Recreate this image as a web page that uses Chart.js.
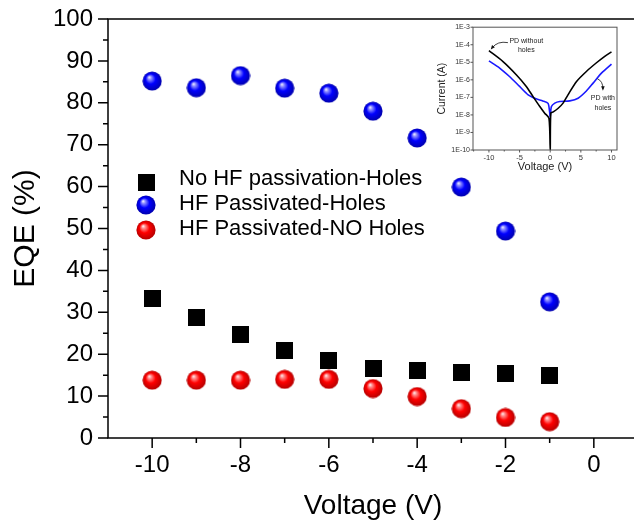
<!DOCTYPE html>
<html>
<head>
<meta charset="utf-8">
<script src="https://cdn.jsdelivr.net/npm/chart.js@4.4.0/dist/chart.umd.min.js"></script>
<style>
html, body { margin: 0; padding: 0; background: #fff; overflow: hidden; }
#wrap { position: relative; width: 634px; height: 527px; overflow: hidden; }
#main { position: absolute; left: 0; top: 0; }
#inset { position: absolute; left: 428px; top: 20px; background: #fff; }
</style>
</head>
<body>
<div id="wrap">
  <canvas id="main" width="660" height="527"></canvas>
  <canvas id="inset" width="200" height="155"></canvas>
</div>
<script>
// main EQE data
var voltage = [-10, -9, -8, -7, -6, -5, -4, -3, -2, -1];
var eqeNoHF = [33.2, 28.7, 24.7, 21, 18.6, 16.7, 16, 15.7, 15.5, 15];
var eqeHFHoles = [85.2, 83.6, 86.5, 83.5, 82.3, 78, 71.6, 59.9, 49.4, 32.5];
var eqeHFNoHoles = [13.8, 13.8, 13.8, 14, 14, 11.8, 9.9, 7, 4.9, 3.9];
var labels = ['No HF passivation-Holes', 'HF Passivated-Holes', 'HF Passivated-NO Holes'];

var xMajor = [-10, -8, -6, -4, -2, 0];
var xMinor = [-9, -7, -5, -3, -1];
var yMajor = [0, 10, 20, 30, 40, 50, 60, 70, 80, 90, 100];
var yMinor = [5, 15, 25, 35, 45, 55, 65, 75, 85, 95];

// inset I-V data
var ivVoltNoHoles = [-10, -7.7, -5.5, -3.9, -2.8, -1.7, -0.9, -0.2, 0, 0.1, 0.5, 1.3, 2.1, 2.9, 4.3, 5.9, 7.5, 8.9, 10];
var ivCurNoHoles = [4.6e-5, 1.1e-5, 1.9e-6, 4.2e-7, 1.1e-7, 3.0e-8, 1.26e-8, 6.4e-9, 1e-10, 1.3e-8, 1.5e-8, 2.4e-8, 4.7e-8, 1.4e-7, 8.1e-7, 3.0e-6, 9.1e-6, 2.2e-5, 3.9e-5];
var ivVoltHoles = [-10, -8.25, -6.6, -5, -3.6, -2.3, -1.2, -0.35, -0.1, 0, 0.2, 0.75, 1.55, 3.2, 4.55, 5.9, 7, 8.4, 10];
var ivCurHoles = [1.2e-5, 4.7e-6, 1.5e-6, 4.2e-7, 1.4e-7, 8.3e-8, 6.3e-8, 4.5e-8, 1.5e-8, 7.9e-9, 3.0e-8, 4.7e-8, 5.8e-8, 6.3e-8, 8.9e-8, 2.3e-7, 6.5e-7, 2.5e-6, 7.9e-6];
var ivXMajor = [-10, -5, 0, 5, 10];
var ivXMinor = [-12.5, -7.5, -2.5, 2.5, 7.5];
var ivYMajor = [1e-10, 1e-9, 1e-8, 1e-7, 1e-6, 1e-5, 1e-4, 1e-3];

var FONT = "'Liberation Sans', Arial, sans-serif";

function sphere(base, dark, light) {
  var c = document.createElement('canvas');
  c.width = 20; c.height = 20;
  var g = c.getContext('2d');
  var grad = g.createRadialGradient(7, 6, 0, 10, 10, 10);
  grad.addColorStop(0, '#ffffff');
  grad.addColorStop(0.18, light);
  grad.addColorStop(0.5, base);
  grad.addColorStop(1, dark);
  g.fillStyle = grad;
  g.beginPath();
  g.arc(10, 10, 9.6, 0, Math.PI * 2);
  g.fill();
  return c;
}
function square() {
  var c = document.createElement('canvas');
  c.width = 17; c.height = 17;
  var g = c.getContext('2d');
  g.fillStyle = '#000';
  g.fillRect(0, 0, 17, 17);
  return c;
}
var icons = [square(), sphere('#0000ff', '#0000a8', '#9090ff'), sphere('#ff0000', '#b00000', '#ff9090')];

function pts(xs, ys) {
  return xs.map(function (x, i) { return { x: x, y: ys[i] }; });
}

function drawTickMarks(ctx, scale, values, len, horizontal, at) {
  ctx.beginPath();
  values.forEach(function (v) {
    var p = scale.getPixelForValue(v);
    if (horizontal) { ctx.moveTo(p, at); ctx.lineTo(p, at + len); }
    else { ctx.moveTo(at, p); ctx.lineTo(at - len, p); }
  });
  ctx.stroke();
}

var mainDecor = {
  id: 'mainDecor',
  afterDraw: function (chart) {
    var ctx = chart.ctx, a = chart.chartArea;
    var xs = chart.scales.x, ys = chart.scales.y;
    ctx.save();
    ctx.strokeStyle = '#000';
    ctx.lineWidth = 1.5;
    ctx.strokeRect(a.left, a.top, a.right - a.left, a.bottom - a.top);
    drawTickMarks(ctx, xs, xMajor, 10, true, a.bottom);
    drawTickMarks(ctx, xs, xMinor, 5, true, a.bottom);
    drawTickMarks(ctx, ys, yMajor, 10, false, a.left);
    drawTickMarks(ctx, ys, yMinor, 5, false, a.left);
    // legend
    var rows = [180, 205, 230];
    ctx.font = '22px ' + FONT;
    ctx.fillStyle = '#000';
    ctx.textBaseline = 'middle';
    ctx.textAlign = 'left';
    labels.forEach(function (t, i) {
      var ic = icons[i];
      ctx.drawImage(ic, 146 - ic.width / 2, rows[i] + (i === 0 ? 2 : 0) - ic.height / 2);
      ctx.fillText(t, 179, rows[i] - 1);
    });
    ctx.restore();
  }
};

new Chart(document.getElementById('main'), {
  type: 'scatter',
  data: {
    datasets: [
      { label: labels[0], data: pts(voltage, eqeNoHF), pointStyle: icons[0] },
      { label: labels[1], data: pts(voltage, eqeHFHoles), pointStyle: icons[1] },
      { label: labels[2], data: pts(voltage, eqeHFNoHoles), pointStyle: icons[2] }
    ]
  },
  options: {
    responsive: false,
    animation: false,
    events: [],
    layout: { padding: { top: 19, right: 22, left: 0, bottom: 0 } },
    plugins: { legend: { display: false }, tooltip: { enabled: false } },
    scales: {
      x: {
        type: 'linear', min: -11, max: 1,
        grid: { display: false, drawTicks: false },
        border: { display: false },
        afterBuildTicks: function (s) { s.ticks = xMajor.map(function (v) { return { value: v }; }); },
        afterFit: function (s) { s.height = 89; },
        ticks: { padding: 13, color: '#000', font: { family: FONT, size: 24 }, maxRotation: 0 },
        title: { display: true, text: 'Voltage (V)', color: '#000', font: { family: FONT, size: 28 }, padding: { top: 0, bottom: 4 } }
      },
      y: {
        type: 'linear', min: 0, max: 100,
        grid: { display: false, drawTicks: false },
        border: { display: false },
        afterBuildTicks: function (s) { s.ticks = yMajor.map(function (v) { return { value: v }; }); },
        afterFit: function (s) { s.width = 108; s.paddingTop = 0; s.paddingBottom = 0; },
        ticks: { padding: 15, color: '#000', font: { family: FONT, size: 24 } },
        title: { display: true, text: 'EQE (%)', color: '#000', font: { family: FONT, size: 30 }, padding: { top: 8, bottom: 0 } }
      }
    }
  },
  plugins: [mainDecor]
});

var insetDecor = {
  id: 'insetDecor',
  afterDraw: function (chart) {
    var ctx = chart.ctx, a = chart.chartArea;
    var xs = chart.scales.x, ys = chart.scales.y;
    ctx.save();
    ctx.strokeStyle = '#555';
    ctx.lineWidth = 1;
    ctx.strokeRect(a.left, a.top, a.right - a.left, a.bottom - a.top);
    drawTickMarks(ctx, xs, ivXMajor, 2.5, true, a.bottom);
    drawTickMarks(ctx, xs, ivXMinor, 1.5, true, a.bottom);
    drawTickMarks(ctx, ys, ivYMajor, 2.5, false, a.left);

    ctx.fillStyle = '#222';
    ctx.font = '7px ' + FONT;
    ctx.textAlign = 'center';
    ctx.textBaseline = 'middle';
    function P(v, i) { return [xs.getPixelForValue(v), ys.getPixelForValue(i)]; }
    var t1 = P(-3.9, 1.6e-4), t2 = P(-3.9, 5.2e-5);
    ctx.fillText('PD without', t1[0], t1[1]);
    ctx.fillText('holes', t2[0], t2[1]);
    var t3 = P(8.6, 9.1e-8), t4 = P(8.6, 2.45e-8);
    ctx.fillText('PD with', t3[0], t3[1]);
    ctx.fillText('holes', t4[0], t4[1]);

    function arrow(s, c, e) {
      ctx.strokeStyle = '#111';
      ctx.fillStyle = '#111';
      ctx.lineWidth = 0.8;
      ctx.beginPath();
      ctx.moveTo(s[0], s[1]);
      ctx.quadraticCurveTo(c[0], c[1], e[0], e[1]);
      ctx.stroke();
      var ang = Math.atan2(e[1] - c[1], e[0] - c[0]);
      ctx.beginPath();
      ctx.moveTo(e[0] + Math.cos(ang) * 2, e[1] + Math.sin(ang) * 2);
      ctx.lineTo(e[0] + Math.cos(ang + 2.5) * 3, e[1] + Math.sin(ang + 2.5) * 3);
      ctx.lineTo(e[0] + Math.cos(ang - 2.5) * 3, e[1] + Math.sin(ang - 2.5) * 3);
      ctx.closePath();
      ctx.fill();
    }
    arrow(P(-6.9, 1.32e-4), P(-8.6, 1.7e-4), P(-9.5, 6.5e-5));
    arrow(P(7.7, 1.15e-6), P(8.6, 8.5e-7), P(8.6, 3.1e-7));
    ctx.restore();
  }
};

new Chart(document.getElementById('inset'), {
  type: 'scatter',
  data: {
    datasets: [
      { data: pts(ivVoltNoHoles, ivCurNoHoles), showLine: true, borderColor: '#000', borderWidth: 1.6, pointRadius: 0, tension: 0.25 },
      { data: pts(ivVoltHoles, ivCurHoles), showLine: true, borderColor: '#1a1aff', borderWidth: 1.6, pointRadius: 0, tension: 0.25 }
    ]
  },
  options: {
    responsive: false,
    animation: false,
    events: [],
    layout: { padding: { top: 4, right: 11, left: 0, bottom: 0 } },
    plugins: { legend: { display: false }, tooltip: { enabled: false } },
    scales: {
      x: {
        type: 'linear', min: -12.6, max: 10.9,
        grid: { display: false, drawTicks: false },
        border: { display: false },
        afterBuildTicks: function (s) { s.ticks = ivXMajor.map(function (v) { return { value: v }; }); },
        afterFit: function (s) { s.height = 25; },
        ticks: { padding: 3, color: '#333', font: { family: FONT, size: 7.5 }, maxRotation: 0 },
        title: { display: true, text: 'Voltage (V)', color: '#222', font: { family: FONT, size: 11 }, padding: { top: 0, bottom: 1 } }
      },
      y: {
        type: 'logarithmic', min: 1e-10, max: 1e-3,
        grid: { display: false, drawTicks: false },
        border: { display: false },
        afterBuildTicks: function (s) { s.ticks = ivYMajor.map(function (v) { return { value: v }; }); },
        afterFit: function (s) { s.width = 45; },
        ticks: {
          padding: 3, color: '#333', font: { family: FONT, size: 7 },
          callback: function (v) { return '1E' + Math.round(Math.log10(v)); }
        },
        title: { display: true, text: 'Current (A)', color: '#222', font: { family: FONT, size: 10.5 }, padding: { top: 8, bottom: 0 } }
      }
    }
  },
  plugins: [insetDecor]
});
</script>
</body>
</html>
